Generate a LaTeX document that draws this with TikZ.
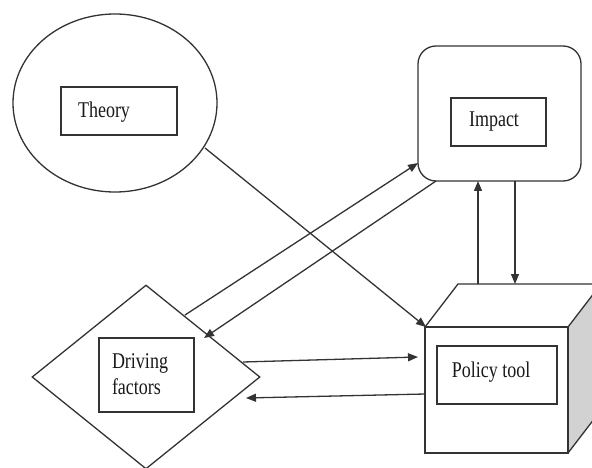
\documentclass[tikz,border=0pt]{standalone}
\usepackage{fontspec}
\setmainfont{Liberation Serif}
\usetikzlibrary{shapes.geometric,arrows.meta}
\newcommand{\lbl}[1]{\scalebox{1}[1.25]{\fontsize{18}{21}\selectfont #1}}
\begin{document}
\begin{tikzpicture}[x=1pt,y=-1pt, line width=1.3pt, draw=black!80,
 box/.style={draw, rectangle, inner sep=0pt},
 txt/.style={inner sep=0pt, text=black!90},
 arr/.style={-{Triangle[length=10pt,width=8pt]}}]
\clip (0,0) rectangle (592,468);
\fill[white] (0,0) rectangle (592,468);

% Theory
\node[draw, ellipse, minimum width=204pt, minimum height=178pt, inner sep=0pt] (theory) at (115,103) {};
\node[box, minimum width=116pt, minimum height=48pt] (thbox) at (119,111) {};
\node[txt] (thtxt) at (104,112) {\lbl{Theory}};

% Impact
\node[draw, rounded corners=18pt, minimum width=163pt, minimum height=135pt, inner sep=0pt] (impact) at (499.5,113.5) {};
\node[box, minimum width=95pt, minimum height=48pt] (imbox) at (498.5,122) {};
\node[txt] (imtxt) at (494,122) {\lbl{Impact}};

% Driving factors
\node[draw, diamond, minimum width=228pt, minimum height=184pt, inner sep=0pt] (drive) at (146,377) {};
\node[box, minimum width=95pt, minimum height=74pt] (drbox) at (146.5,375) {};
\node[txt] (drtxt) at (140,376) {\lbl{\begin{tabular}{@{}l@{}}Driving\\factors\end{tabular}}};

% Policy tool cube
\fill[gray!35] (568,327) -- (601,284) -- (601,410) -- (568,453) -- cycle;
\draw (568,327) -- (601,284) -- (601,410) -- (568,453);
\draw (425,327) -- (458,284) -- (601,284);
\node[draw, fill=white, minimum width=143pt, minimum height=126pt, inner sep=0pt] (policy) at (496.5,390) {};
\node[box, minimum width=120pt, minimum height=58pt] (pobox) at (497,375) {};
\node[txt] (potxt) at (491,372) {\lbl{Policy tool}};

% connector end points
\coordinate (thOut) at (205,148);
\coordinate (poCorner) at (426,327);
\coordinate (drUp) at (185,315);
\coordinate (imIn) at (418,163);
\coordinate (imOut) at (436,181);
\coordinate (drIn) at (204,338);
\coordinate (drR1) at (243,362);
\coordinate (poL1) at (418,357);
\coordinate (poL2) at (425,394);
\coordinate (drR2) at (246,398);
\coordinate (poTop1) at (478,284);
\coordinate (imBot1) at (478,181);
\coordinate (imBot2) at (515,181);
\coordinate (poTop2) at (515,284);

\draw[arr] (thOut) -- (poCorner);
\draw[arr] (drUp) -- (imIn);
\draw[arr] (imOut) -- (drIn);
\draw[arr] (drR1) -- (poL1);
\draw[arr] (poL2) -- (drR2);
\draw[arr] (poTop1) -- (imBot1);
\draw[arr] (imBot2) -- (poTop2);
\end{tikzpicture}
\end{document}
